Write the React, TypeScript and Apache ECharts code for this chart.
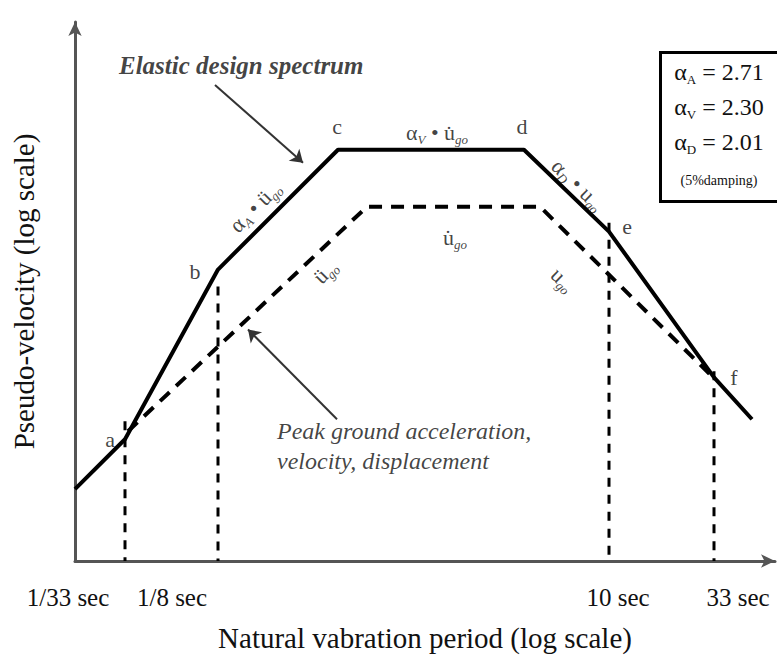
import React, { useEffect, useRef } from 'react';
import * as echarts from 'echarts';

// Schematic log-period (x) and log pseudo-velocity (y) units
const xTickValues = [50, 143, 534, 639];
const xTickLabels = ['1/33 sec', '1/8 sec', '10 sec', '33 sec'];
const designPeriod = [0, 50, 143, 263, 449, 534, 639, 677];
const designVelocity = [72, 122, 292, 412, 412, 330, 184, 142];
const groundPeriod = [53, 292, 465, 635];
const groundVelocity = [130, 355, 355, 187];
const cornerTop = [140, 275, 339, 190];
const cornerNames = ['a', 'b', 'c', 'd', 'e', 'f'];
const cornerLabelPos = [[35, 122], [120, 290], [262, 435], [447, 435], [552, 335], [659, 184]];
const alphaNames = ['A', 'V', 'D'];
const alphaValues = ['2.71', '2.30', '2.01'];

const F = 'Liberation Serif';
const labelShift = [-57, -46, 9, 24];

const richSub = {
  m: { fontSize: 22, fontFamily: F, color: '#111', lineHeight: 26 },
  s: { fontSize: 13, fontFamily: F, fontStyle: 'italic', color: '#111', lineHeight: 14, verticalAlign: 'bottom' },
};

export default function App() {
  const ref = useRef<HTMLDivElement>(null);
  useEffect(() => {
    if (!ref.current) return;
    const chart = echarts.init(ref.current, undefined, { renderer: 'svg' });

    const tickRich: any = {};
    labelShift.forEach((s, i) => {
      tickRich['t' + i] = {
        fontSize: 25,
        fontFamily: F,
        color: '#111',
        padding: s < 0 ? [0, -2 * s, 0, 0] : [0, 0, 0, 2 * s],
      };
    });

    const annotations: any[] = [
      ...cornerNames.map((n, i) => ({ value: cornerLabelPos[i], text: n, rotate: 0 })),
      { value: [180, 355], text: '{m|α}{s|A}{m| • ü}{s|go}', rotate: 45 },
      { value: [362, 429], text: '{m|α}{s|V}{m| • u\u0307}{s|go}', rotate: 0 },
      { value: [503, 377], text: '{m|α}{s|D}{m| • u}{s|go}', rotate: -44 },
      { value: [250, 290], text: '{m|ü}{s|go}', rotate: 45 },
      { value: [380, 324], text: '{m|u\u0307}{s|go}', rotate: 0 },
      { value: [488, 282], text: '{m|u}{s|go}', rotate: -44 },
    ];

    const noteTexts: any[] = [
      { value: [44, 496], text: 'Elastic design spectrum', bold: true, size: 25 },
      { value: [202, 130], text: 'Peak ground acceleration,', bold: false, size: 24 },
      { value: [202, 100], text: 'velocity, displacement', bold: false, size: 24 },
    ];

    const option: any = {
      animation: false,
      textStyle: { fontFamily: F },
      grid: { left: 75, top: 22, width: 700, height: 540 },
      xAxis: {
        type: 'value',
        min: 0,
        max: 700,
        splitLine: { show: false },
        axisTick: { show: false },
        axisLine: { show: true, symbol: ['none', 'arrow'], symbolSize: [10, 14], lineStyle: { color: '#555', width: 3 } },
        axisLabel: {
          customValues: xTickValues,
          margin: 24,
          formatter: (v: number) => {
            const i = xTickValues.indexOf(v);
            return i >= 0 ? `{t${i}|${xTickLabels[i]}}` : '';
          },
          rich: tickRich,
        },
        name: 'Natural vabration period (log scale)',
        nameLocation: 'middle',
        nameGap: 62,
        nameTextStyle: { fontSize: 29, fontFamily: F, color: '#111' },
      },
      yAxis: {
        type: 'value',
        min: 0,
        max: 540,
        splitLine: { show: false },
        axisTick: { show: false },
        axisLabel: { show: false },
        axisLine: { show: true, symbol: ['none', 'arrow'], symbolSize: [10, 14], lineStyle: { color: '#555', width: 3 } },
        name: 'Pseudo-velocity (log scale)',
        nameLocation: 'middle',
        nameGap: 37,
        nameRotate: 90,
        nameTextStyle: { fontSize: 29, fontFamily: F, color: '#111' },
      },
      series: [
        {
          type: 'line',
          name: 'Elastic design spectrum',
          data: designPeriod.map((x, i) => [x, designVelocity[i]]),
          symbol: 'none',
          lineStyle: { color: '#000', width: 4 },
          silent: true,
          z: 5,
        },
        {
          type: 'line',
          name: 'Peak ground motion',
          data: groundPeriod.map((x, i) => [x, groundVelocity[i]]),
          symbol: 'none',
          lineStyle: { color: '#000', width: 4, type: [13, 9] },
          silent: true,
          z: 4,
        },
        ...xTickValues.map((x, i) => ({
          type: 'line',
          name: 'corner ' + i,
          data: [[x, cornerTop[i]], [x, 0]],
          symbol: 'none',
          lineStyle: { color: '#000', width: 3, type: [9, 8] },
          silent: true,
          z: 3,
        })),
        {
          type: 'scatter',
          name: 'annotations',
          symbolSize: 0,
          silent: true,
          z: 6,
          data: annotations.map((a) => ({
            value: a.value,
            label: {
              show: true,
              position: 'inside',
              rotate: a.rotate,
              formatter: a.text,
              fontSize: 22,
              color: '#111',
              fontFamily: F,
              rich: richSub,
            },
          })),
          markLine: {
            silent: true,
            symbol: ['none', 'arrow'],
            symbolSize: 12,
            label: { show: false },
            lineStyle: { color: '#333', width: 2, type: 'solid' },
            data: [
              [{ coord: [140, 477] }, { coord: [228, 399] }],
              [{ coord: [262, 142] }, { coord: [173, 232] }],
            ],
          },
        },
        {
          type: 'scatter',
          name: 'notes',
          symbolSize: 0,
          silent: true,
          z: 6,
          data: noteTexts.map((a) => ({
            value: a.value,
            label: {
              show: true,
              position: 'inside',
              align: 'left',
              formatter: a.text,
              fontSize: a.size,
              fontStyle: 'italic',
              fontWeight: a.bold ? 'bold' : 'normal',
              color: '#111',
              fontFamily: F,
            },
          })),
        },
      ],
      graphic: [
        {
          type: 'rect',
          left: 659,
          top: 51,
          shape: { width: 124, height: 149 },
          style: { fill: '#fff', stroke: '#000', lineWidth: 3 },
          z: 10,
        },
        ...alphaNames.map((n, i) => ({
          type: 'text',
          x: 719,
          y: 72 + i * 35,
          z: 11,
          style: {
            text: `{m|α}{s|${n}}{m| = ${alphaValues[i]}}`,
            align: 'center',
            verticalAlign: 'middle',
            rich: {
              m: { fontSize: 24, fontFamily: F, fill: '#111', lineHeight: 28 },
              s: { fontSize: 13, fontFamily: F, fill: '#111', lineHeight: 14, verticalAlign: 'bottom' },
            },
          },
        })),
        {
          type: 'text',
          x: 719,
          y: 180,
          z: 11,
          style: { text: '(5%damping)', fontSize: 14, fontFamily: F, fill: '#111', align: 'center', verticalAlign: 'middle' },
        },
      ],
    };
    chart.setOption(option);
    return () => chart.dispose();
  }, []);
  return <div ref={ref} style={{ position: 'absolute', left: 0, top: 0, width: 777, height: 657 }} />;
}
